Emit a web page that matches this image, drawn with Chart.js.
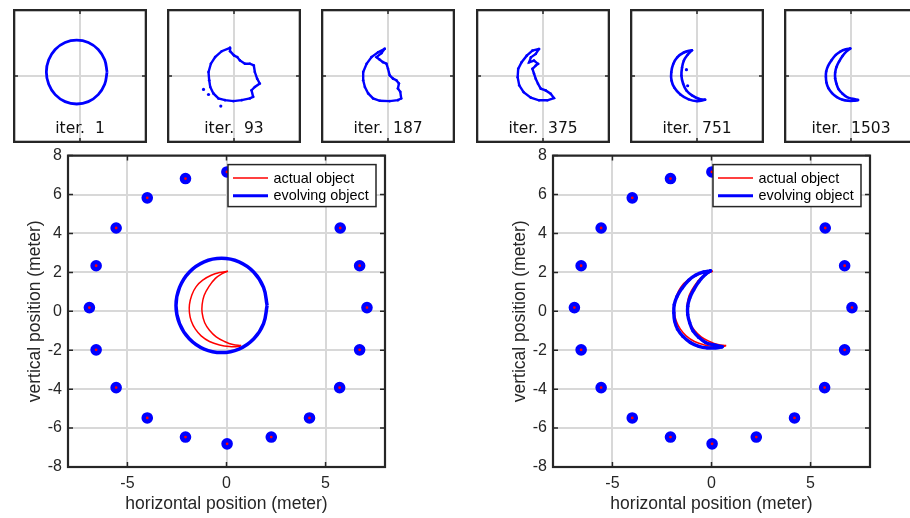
<!DOCTYPE html>
<html>
<head>
<meta charset="utf-8">
<script src="https://cdn.jsdelivr.net/npm/chart.js@4.4.0/dist/chart.umd.min.js"></script>
<style>
  html, body { margin: 0; padding: 0; background: #fff; }
  body { width: 910px; height: 518px; position: relative; overflow: hidden; }
  canvas { position: absolute; }
</style>
</head>
<body>
<script>
// Shape reconstruction: sensors, actual object and evolving object snapshots
const iterations = [1, 93, 187, 375, 751, 1503];
const legendLabels = ['actual object', 'evolving object'];
const xTicks = [-5, 0, 5];
const yTicks = [-8, -6, -4, -2, 0, 2, 4, 6, 8];
const thumbTicks = [0];

const sensorX = [7.09, 6.72, 5.74, 4.2, 2.26, 0.02, -2.07, -4.0, -5.57, -6.58, -6.92, -6.58, -5.57, -4.0, -2.07, 0.03, 2.26, 4.19, 5.71, 6.72];
const sensorY = [0.19, 2.34, 4.28, 5.85, 6.85, 7.16, 6.82, 5.83, 4.28, 2.34, 0.19, -1.98, -3.92, -5.48, -6.46, -6.81, -6.46, -5.48, -3.92, -1.98];

// actual object (red crescent)
const actualOuterX = [0.07, -0.35, -0.77, -1.20, -1.53, -1.75, -1.87, -1.87, -1.78, -1.57, -1.28, -0.86, -0.35, 0.15, 0.57, 0.74];
const actualOuterY = [2.06, 1.99, 1.85, 1.60, 1.27, 0.84, 0.34, -0.08, -0.50, -0.92, -1.26, -1.55, -1.73, -1.81, -1.81, -1.76];
const actualInnerX = [0.74, 0.32, -0.10, -0.52, -0.86, -1.10, -1.23, -1.23, -1.13, -0.89, -0.56, -0.22, 0.07];
const actualInnerY = [-1.76, -1.71, -1.55, -1.31, -0.97, -0.59, -0.08, 0.34, 0.81, 1.27, 1.69, 1.94, 2.06];

// evolving object, iteration 1 (initial circle)
const initX = [2.05, 1.87, 1.38, 0.63, -0.25, -1.13, -1.88, -2.37, -2.55, -2.37, -1.88, -1.13, -0.25, 0.63, 1.38, 1.87, 2.05];
const initY = [0.30, 1.23, 2.01, 2.54, 2.72, 2.54, 2.01, 1.23, 0.30, -0.63, -1.41, -1.94, -2.12, -1.94, -1.41, -0.63, 0.30];

// iteration 93
const iter93X = [-0.30, -0.93, -1.43, -1.75, -1.93, -1.88, -1.80, -1.56, -1.18, -0.68, -0.05, 0.58, 1.20, 1.45, 1.33, 1.58, 1.95, 1.75, 1.58, 1.50, 1.20, 0.83, 0.45, 0.25, 0.00, -0.30, -0.30];
const iter93Y = [2.13, 1.88, 1.43, 0.93, 0.30, -0.32, -0.83, -1.32, -1.70, -1.83, -1.90, -1.83, -1.70, -1.58, -1.08, -0.83, -0.57, -0.20, 0.30, 0.80, 0.93, 0.93, 1.18, 1.43, 1.56, 1.88, 2.13];
const iter93DotX = [-2.31, -1.93, -1.00];
const iter93DotY = [-1.02, -1.40, -2.28];

// iteration 187
const iter187X = [-0.25, -0.75, -1.25, -1.62, -1.88, -1.88, -1.75, -1.50, -1.13, -0.62, 0.13, 0.75, 1.00, 0.93, 0.75, 0.83, 0.63, 0.38, 0.13, 0.00, -0.12, -0.38, -0.62, -0.87, -0.50, -0.25];
const iter187Y = [2.06, 1.80, 1.43, 0.93, 0.30, -0.32, -0.83, -1.32, -1.70, -1.88, -1.90, -1.83, -1.70, -1.20, -0.95, -0.57, -0.32, -0.20, 0.05, 0.55, 0.93, 1.05, 1.23, 1.43, 1.73, 2.06];

// iteration 375
const iter375X = [-0.30, -0.80, -1.23, -1.62, -1.88, -1.92, -1.80, -1.47, -0.92, -0.30, 0.33, 0.83, 0.58, 0.20, -0.17, -0.38, -0.55, -0.68, -0.80, -0.55, -0.38, -0.68, -1.05, -0.92, -0.55, -0.30];
const iter375Y = [2.05, 1.92, 1.54, 1.04, 0.54, -0.09, -0.71, -1.22, -1.64, -1.84, -1.84, -1.67, -1.34, -1.09, -0.96, -0.59, -0.21, 0.17, 0.54, 0.79, 0.92, 1.17, 1.04, 1.41, 1.67, 2.05];

// iteration 751
const iter751OuterX = [-0.38, -1.0, -1.50, -1.80, -1.95, -1.93, -1.71, -1.26, -0.63, 0.0, 0.62];
const iter751OuterY = [1.96, 1.78, 1.41, 0.91, 0.28, -0.35, -0.89, -1.40, -1.77, -1.90, -1.80];
const iter751InnerX = [0.62, 0.12, -0.38, -0.80, -1.05, -1.18, -1.13, -1.0, -0.71, -0.38];
const iter751InnerY = [-1.80, -1.72, -1.47, -1.10, -0.59, 0.03, 0.65, 1.16, 1.61, 1.96];
const iter751DotX = [-0.80, -0.71];
const iter751DotY = [0.48, -0.74];

// iteration 1503 (final)
const finalOuterX = [-0.05, -0.39, -0.81, -1.15, -1.49, -1.74, -1.88, -1.90, -1.86, -1.71, -1.44, -1.07, -0.64, -0.22, 0.20, 0.54];
const finalOuterY = [2.08, 2.02, 1.85, 1.60, 1.18, 0.76, 0.34, -0.08, -0.50, -0.92, -1.29, -1.60, -1.80, -1.88, -1.88, -1.82];
const finalInnerX = [0.54, 0.12, -0.30, -0.64, -0.93, -1.10, -1.20, -1.20, -1.10, -0.90, -0.64, -0.30, -0.05];
const finalInnerY = [-1.82, -1.73, -1.60, -1.34, -1.01, -0.59, -0.17, 0.26, 0.68, 1.10, 1.52, 1.90, 2.08];

const BLUE = '#0000ff', RED = '#ff0000', INK = '#262626', GRID = '#d8d8d8';

function pts(xs, ys) { return xs.map((x, i) => ({ x: x, y: ys[i] })); }

function path(xs, ys, color, width, tension, radius) {
    return {
        data: pts(xs, ys), showLine: true, borderColor: color, backgroundColor: color,
        borderWidth: width, tension: tension, pointRadius: radius, pointBorderWidth: 0, fill: false
    };
}

function dots(xs, ys, radius) {
    return { data: pts(xs, ys), showLine: false, backgroundColor: BLUE, pointRadius: radius, pointBorderWidth: 0 };
}

function sensors() {
    return {
        data: pts(sensorX, sensorY), showLine: false,
        pointRadius: 3.6, pointBorderWidth: 4.4,
        pointBackgroundColor: RED, pointBorderColor: BLUE
    };
}

function makeCanvas(left, top, w, h) {
    const c = document.createElement('canvas');
    c.width = w; c.height = h;
    c.style.left = left + 'px'; c.style.top = top + 'px';
    c.style.width = w + 'px'; c.style.height = h + 'px';
    document.body.appendChild(c);
    return c;
}

// box, inward ticks, caption and legend
const framePlugin = {
    id: 'frame',
    afterDraw(chart, args, opts) {
        const { ctx, chartArea: a, scales } = chart;
        const len = opts.tickLen || 5;
        ctx.save();
        ctx.strokeStyle = INK;
        ctx.lineWidth = 1.5;
        ctx.beginPath();
        scales.x.ticks.forEach(t => {
            const p = scales.x.getPixelForValue(t.value);
            ctx.moveTo(p, a.bottom); ctx.lineTo(p, a.bottom - len);
            ctx.moveTo(p, a.top); ctx.lineTo(p, a.top + len);
        });
        scales.y.ticks.forEach(t => {
            const p = scales.y.getPixelForValue(t.value);
            ctx.moveTo(a.left, p); ctx.lineTo(a.left + len, p);
            ctx.moveTo(a.right, p); ctx.lineTo(a.right - len, p);
        });
        ctx.stroke();
        ctx.lineWidth = opts.boxWidth || 2;
        ctx.strokeRect(a.left, a.top, a.right - a.left, a.bottom - a.top);

        if (opts.caption) {
            ctx.fillStyle = '#111';
            ctx.font = '15.5px "DejaVu Sans"';
            ctx.textAlign = 'center';
            ctx.textBaseline = 'alphabetic';
            ctx.fillText(opts.caption, (a.left + a.right) / 2, opts.captionY);
        }

        if (opts.legend) {
            const bw = 148, bh = 42;
            const bx = a.right - 9 - bw, by = a.top + 9;
            ctx.fillStyle = '#fff';
            ctx.fillRect(bx, by, bw, bh);
            ctx.lineWidth = 1.5;
            ctx.strokeStyle = INK;
            ctx.strokeRect(bx, by, bw, bh);
            const styles = [[RED, 1.5], [BLUE, 3]];
            ctx.font = '14.4px "Liberation Sans"';
            ctx.textAlign = 'left';
            ctx.textBaseline = 'middle';
            legendLabels.forEach((lab, i) => {
                const y = by + 13.5 + i * 17.7;
                ctx.strokeStyle = styles[i][0];
                ctx.lineWidth = styles[i][1];
                ctx.beginPath();
                ctx.moveTo(bx + 5, y); ctx.lineTo(bx + 40, y);
                ctx.stroke();
                ctx.fillStyle = '#000';
                ctx.fillText(lab, bx + 45.5, y + 0.5);
            });
        }
        ctx.restore();
    }
};

function axis(min, max, ticks, extra) {
    return Object.assign({
        type: 'linear', min: min, max: max,
        afterBuildTicks: s => { s.ticks = ticks.map(v => ({ value: v })); },
        grid: { color: GRID, lineWidth: 2, drawTicks: false },
        border: { display: false }
    }, extra);
}

const tickFont = { family: 'Liberation Sans', size: 16 };
const titleFont = { family: 'Liberation Sans', size: 17.5 };

function bigChart(left, datasets) {
    const c = makeCanvas(left, 140, 400, 378);
    return new Chart(c, {
        type: 'scatter',
        data: { datasets: datasets },
        options: {
            responsive: false, animation: false,
            layout: { autoPadding: false, padding: { top: 10, right: 15, left: 0, bottom: 0 } },
            plugins: {
                legend: { display: false }, tooltip: { enabled: false },
                frame: { legend: true, tickLen: 5, boxWidth: 2.2 }
            },
            scales: {
                x: axis(-8, 8, xTicks, {
                    afterFit: s => { s.height = 51; },
                    ticks: { padding: 7, color: INK, font: tickFont },
                    title: { display: true, text: 'horizontal position (meter)', color: INK, font: titleFont, padding: { top: 0, bottom: 3.7 } }
                }),
                y: axis(-8, 8, yTicks, {
                    afterFit: s => { s.width = 68; },
                    ticks: { padding: 6, color: INK, font: tickFont },
                    title: { display: true, text: 'vertical position (meter)', color: INK, font: titleFont, padding: { top: 24.5, bottom: 0 } }
                })
            }
        },
        plugins: [framePlugin]
    });
}

function thumbChart(i, datasets) {
    const c = makeCanvas(Math.round(13 + 154.2 * i), 9, 134, 134);
    return new Chart(c, {
        type: 'scatter',
        data: { datasets: datasets },
        options: {
            responsive: false, animation: false,
            layout: { autoPadding: false, padding: 1 },
            plugins: {
                legend: { display: false }, tooltip: { enabled: false },
                frame: { caption: 'iter.  ' + iterations[i], captionY: 124, tickLen: 4, boxWidth: 2.6 }
            },
            scales: {
                x: axis(-5, 5, thumbTicks, { afterFit: s => { s.height = 0; }, ticks: { display: false } }),
                y: axis(-5, 5, thumbTicks, { afterFit: s => { s.width = 0; }, ticks: { display: false } })
            }
        },
        plugins: [framePlugin]
    });
}

// thumbnails
thumbChart(0, [path(initX, initY, BLUE, 2.8, 0.4, 0)]);
thumbChart(1, [dots(iter93DotX, iter93DotY, 1.6), path(iter93X, iter93Y, BLUE, 2.4, 0, 1.3)]);
thumbChart(2, [path(iter187X, iter187Y, BLUE, 2.4, 0, 1.3)]);
thumbChart(3, [path(iter375X, iter375Y, BLUE, 2.4, 0, 1.3)]);
thumbChart(4, [
    dots(iter751DotX, iter751DotY, 1.6),
    path(iter751OuterX, iter751OuterY, BLUE, 2.6, 0.4, 1.2),
    path(iter751InnerX, iter751InnerY, BLUE, 2.6, 0.4, 1.2)
]);
thumbChart(5, [
    path(finalOuterX, finalOuterY, BLUE, 2.6, 0.4, 1.2),
    path(finalInnerX, finalInnerY, BLUE, 2.6, 0.4, 1.2)
]);

// main plots
bigChart(0, [
    sensors(),
    path(initX, initY, BLUE, 3.5, 0.4, 0),
    path(actualOuterX, actualOuterY, RED, 1.5, 0.4, 0),
    path(actualInnerX, actualInnerY, RED, 1.5, 0.4, 0)
]);
bigChart(485, [
    sensors(),
    path(finalOuterX, finalOuterY, BLUE, 3.4, 0.4, 1.7),
    path(finalInnerX, finalInnerY, BLUE, 3.4, 0.4, 1.7),
    path(actualOuterX, actualOuterY, RED, 1.5, 0.4, 0),
    path(actualInnerX, actualInnerY, RED, 1.5, 0.4, 0)
]);
</script>
</body>
</html>
